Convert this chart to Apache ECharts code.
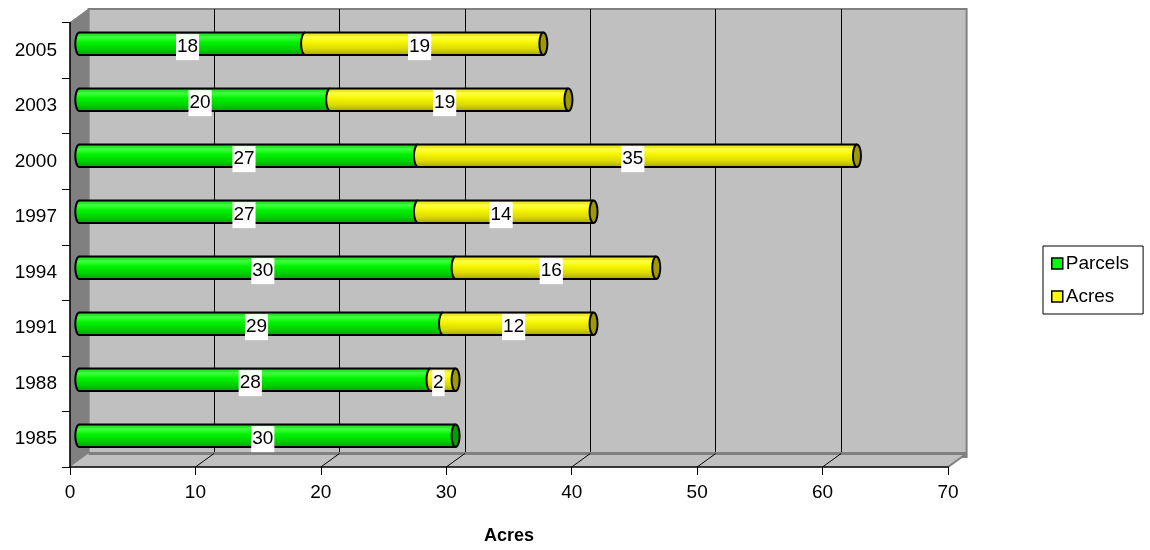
<!DOCTYPE html>
<html>
<head>
<meta charset="utf-8">
<script src="https://cdn.jsdelivr.net/npm/echarts@6/dist/echarts.min.js"></script>
<style>
  html, body { margin: 0; padding: 0; background: #fff; }
  #chart { width: 1150px; height: 550px; }
</style>
</head>
<body>
<div id="chart"></div>
<script>
// ---- data ----
const years   = ['1985', '1988', '1991', '1994', '1997', '2000', '2003', '2005'];
const parcels = [30, 28, 29, 30, 27, 27, 20, 18];
const acres   = [0, 2, 12, 16, 14, 35, 19, 19];
const xTicks  = [0, 10, 20, 30, 40, 50, 60, 70];

// ---- layout of the 3D box (front plane + depth offset) ----
const FONT = '"Liberation Sans", Arial, sans-serif';
const FS = 19;
const FRONT = { left: 70, top: 22.5, width: 878, height: 448 };
const DX = 18.6, DY = 13.5;           // depth shift toward the back wall
const X_MIN = xTicks[0], X_MAX = xTicks[xTicks.length - 1], X_STEP = xTicks[1] - xTicks[0];

const GREEN = {
  body: [[0, '#14d414'], [0.22, '#3cff3c'], [0.45, '#00f000'], [0.75, '#00d000'], [1, '#00a800']],
  cap: '#00a000', legend: '#00ff00'
};
const YELLOW = {
  body: [[0, '#d8d800'], [0.22, '#ffff40'], [0.45, '#f4f400'], [0.75, '#d8d800'], [1, '#a8a800']],
  cap: '#a09a00', legend: '#ffff00'
};

function grad(stops) {
  return {
    type: 'linear', x: 0, y: 0, x2: 0, y2: 1,
    colorStops: stops.map(s => ({ offset: s[0], color: s[1] }))
  };
}

// stacked segments: [categoryIndex, start, end, value, isTopSegment]
const parcelSeg = years.map((y, i) => [i, 0, parcels[i], parcels[i], acres[i] > 0 ? 0 : 1]);
const acresSeg  = years.map((y, i) => [i, parcels[i], parcels[i] + acres[i], acres[i], 1]);

function cylinderItem(palette) {
  return function (params, api) {
    const i = api.value(0), s0 = api.value(1), s1 = api.value(2), v = api.value(3), top = api.value(4);
    if (!(v > 0)) return;
    const p0 = api.coord([s0, i]);
    const p1 = api.coord([s1, i]);
    const h = api.size([0, 1])[1] * 0.4;
    const ry = h / 2, rx = 4;
    const y = p0[1], x0 = p0[0], x1 = p1[0];
    const children = [
      { // body with rounded left silhouette
        type: 'path',
        shape: { pathData: `M${x1} ${y - ry}L${x0} ${y - ry}A${rx} ${ry} 0 0 0 ${x0} ${y + ry}L${x1} ${y + ry}Z` },
        style: { fill: grad(palette.body), stroke: null }
      },
      { // outline (top, left arc, bottom)
        type: 'path',
        shape: { pathData: `M${x1} ${y - ry}L${x0} ${y - ry}A${rx} ${ry} 0 0 0 ${x0} ${y + ry}L${x1} ${y + ry}` },
        style: { fill: null, stroke: '#000', lineWidth: 2 }
      }
    ];
    if (top) {
      children.push({
        type: 'ellipse',
        shape: { cx: x1, cy: y, rx: rx, ry: ry },
        style: { fill: palette.cap, stroke: '#000', lineWidth: 2 }
      });
    }
    const mid = api.coord([(s0 + s1) / 2, i]);
    children.push({
      type: 'text',
      z2: 100,
      style: {
        text: String(v),
        x: mid[0] - DX / 4,
        y: mid[1] + DY / 4,
        align: 'center',
        verticalAlign: 'middle',
        font: FS + 'px ' + FONT,
        fill: '#000',
        backgroundColor: '#fff',
        padding: [4, 1, 3, 1]
      }
    });
    return { type: 'group', children: children };
  };
}

// side wall + floor of the box, from the front grid rectangle
function frameItem(params, api) {
  const cs = params.coordSys;
  const x = cs.x, y = cs.y, w = cs.width, h = cs.height;
  return {
    type: 'group',
    children: [
      { type: 'polygon', shape: { points: [[x, y], [x + DX, y - DY], [x + DX, y + h - DY], [x, y + h]] },
        style: { fill: '#808080', stroke: '#808080', lineWidth: 1 } },
      { type: 'polygon', shape: { points: [[x, y + h], [x + w, y + h], [x + w + DX, y + h - DY], [x + DX, y + h - DY]] },
        style: { fill: '#c0c0c0' } },
      { type: 'line', shape: { x1: x + DX, y1: y + h - DY, x2: x + w + DX, y2: y + h - DY },
        style: { stroke: '#808080', lineWidth: 3 } },
      { type: 'line', shape: { x1: x + w, y1: y + h, x2: x + w + DX, y2: y + h - DY },
        style: { stroke: '#808080', lineWidth: 2 } }
    ]
  };
}

// diagonal floor lines at each inner tick
function floorLineItem(params, api) {
  const t = api.value(0);
  if (t <= X_MIN || t >= X_MAX) return;
  const cs = params.coordSys;
  const px = api.coord([t, 0])[0];
  const yb = cs.y + cs.height;
  return {
    type: 'line',
    shape: { x1: px, y1: yb, x2: px + DX, y2: yb - DY },
    style: { stroke: '#000', lineWidth: 1 }
  };
}

const chart = echarts.init(document.getElementById('chart'), null, { renderer: 'canvas' });

const valueAxisBase = { type: 'value', min: X_MIN, max: X_MAX, interval: X_STEP };

chart.setOption({
  backgroundColor: '#fff',
  animation: false,
  textStyle: { fontFamily: FONT },
  grid: [
    { left: FRONT.left, top: FRONT.top, width: FRONT.width, height: FRONT.height },
    { left: FRONT.left + DX, top: FRONT.top - DY, width: FRONT.width, height: FRONT.height,
      show: true, backgroundColor: '#c0c0c0', borderColor: '#808080', borderWidth: 2 },
    { left: FRONT.left + DX / 2, top: FRONT.top - DY / 2, width: FRONT.width, height: FRONT.height }
  ],
  xAxis: [
    Object.assign({}, valueAxisBase, {
      gridIndex: 0, z: 5,
      name: 'Acres', nameLocation: 'middle', nameGap: 60,
      nameTextStyle: { fontSize: 18, fontWeight: 'bold', color: '#000', fontFamily: FONT },
      axisLine: { show: true, lineStyle: { color: '#000', width: 1.5 } },
      axisTick: { show: true, length: 8, lineStyle: { color: '#000', width: 1 } },
      axisLabel: { fontSize: FS, color: '#000', margin: 16, fontFamily: FONT },
      splitLine: { show: false }
    }),
    Object.assign({}, valueAxisBase, {
      gridIndex: 1,
      axisLine: { show: false }, axisTick: { show: false }, axisLabel: { show: false },
      splitLine: { show: true, showMinLine: false, showMaxLine: false, lineStyle: { color: '#000', width: 1 } }
    }),
    Object.assign({}, valueAxisBase, { gridIndex: 2, show: false })
  ],
  yAxis: [
    { type: 'category', data: years, gridIndex: 0, z: 5,
      axisLine: { show: true, lineStyle: { color: '#000', width: 1.5 } },
      axisTick: { show: true, length: 8, lineStyle: { color: '#000', width: 1 } },
      axisLabel: { fontSize: FS, color: '#000', margin: 13, fontFamily: FONT },
      splitLine: { show: false } },
    { type: 'category', data: years, gridIndex: 1, show: false },
    { type: 'category', data: years, gridIndex: 2, show: false }
  ],
  legend: {
    orient: 'vertical',
    left: 1043, top: 246,
    data: [{ name: 'Parcels', icon: 'rect' }, { name: 'Acres', icon: 'rect' }],
    itemWidth: 11, itemHeight: 11, itemGap: 14,
    padding: [8, 14, 8, 8],
    borderColor: '#000', borderWidth: 1, backgroundColor: '#fff',
    itemStyle: { borderColor: '#000', borderWidth: 1.5 },
    textStyle: { fontSize: FS, color: '#000', fontFamily: FONT, padding: [0, 0, 0, -2] },
    selectedMode: false
  },
  series: [
    { type: 'custom', name: 'frame', xAxisIndex: 0, yAxisIndex: 0, z: 1, silent: true,
      data: [[0, 0]], renderItem: frameItem },
    { type: 'custom', name: 'floor', xAxisIndex: 0, yAxisIndex: 0, z: 1, silent: true,
      data: xTicks.map(t => [t, 0]), renderItem: floorLineItem },
    { type: 'custom', name: 'Parcels', xAxisIndex: 2, yAxisIndex: 2, z: 3,
      itemStyle: { color: GREEN.legend },
      encode: { x: [1, 2], y: 0 },
      data: parcelSeg, renderItem: cylinderItem(GREEN) },
    { type: 'custom', name: 'Acres', xAxisIndex: 2, yAxisIndex: 2, z: 3,
      itemStyle: { color: YELLOW.legend },
      encode: { x: [1, 2], y: 0 },
      data: acresSeg, renderItem: cylinderItem(YELLOW) }
  ]
});
</script>
</body>
</html>
